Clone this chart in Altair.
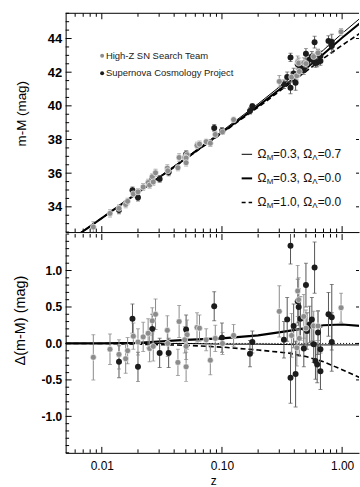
import altair as alt
import pandas as pd

# ---------------- data ----------------
Z = [0.0085, 0.0117, 0.0139, 0.0139, 0.0158, 0.0164, 0.0180, 0.0183, 0.0200, 0.0200,
     0.0221, 0.0243, 0.0250, 0.0263, 0.0263, 0.0280, 0.0268, 0.0303, 0.0351, 0.0354,
     0.0360, 0.0430, 0.0440, 0.0503, 0.0513, 0.0490, 0.0503, 0.0503, 0.0620, 0.0650,
     0.0739, 0.0800, 0.0862, 0.0880, 0.1000, 0.1010, 0.1250, 0.1710, 0.1790, 0.300,
     0.328, 0.349, 0.372, 0.372, 0.380, 0.395, 0.410, 0.427, 0.435, 0.427,
     0.435, 0.420, 0.440, 0.450, 0.480, 0.500, 0.500, 0.480, 0.510, 0.537,
     0.560, 0.580, 0.580, 0.590, 0.600, 0.630, 0.630, 0.620, 0.660, 0.660,
     0.770, 0.820, 0.820, 0.980]
DELTA = [-0.19, -0.08, -0.15, -0.25, -0.21, -0.10, 0.34, 0.10, -0.32, 0.02,
         0.09, 0.14, -0.07, 0.20, 0.31, 0.40, -0.04, -0.13, 0.18, 0.00,
         -0.13, -0.26, 0.30, 0.19, 0.12, 0.05, -0.04, -0.32, 0.22, 0.21,
         0.05, -0.23, 0.51, 0.07, 0.08, 0.00, 0.11, -0.14, 0.02, 0.44,
         0.05, 0.33, -0.47, 1.34, 0.11, 0.24, -0.42, 0.72, 0.60, 0.58,
         0.50, -0.06, 0.07, 0.34, 0.37, 0.21, 0.80, -0.07, 0.17, 0.26,
         0.33, 0.24, -0.01, 1.04, -0.24, 0.24, 0.15, -0.29, -0.08, -0.38,
         0.40, 0.36, 0.02, 0.49]
MU = [32.80, 33.61, 33.91, 33.81, 34.14, 34.33, 34.98, 34.77, 34.55, 34.89,
      35.18, 35.44, 35.29, 35.68, 35.79, 36.02, 35.48, 35.66, 36.30, 36.14,
      36.05, 36.32, 36.93, 37.13, 37.10, 36.93, 36.90, 36.62, 37.64, 37.73,
      37.87, 37.78, 38.69, 38.30, 38.51, 38.45, 39.18, 39.70, 39.98, 41.45,
      41.28, 41.71, 41.07, 42.88, 41.71, 41.93, 41.37, 42.61, 42.54, 42.47,
      42.44, 41.79, 42.04, 42.37, 42.56, 42.51, 43.10, 42.12, 42.52, 42.75,
      42.93, 42.93, 42.68, 43.78, 42.54, 43.15, 43.06, 42.58, 42.96, 42.66,
      43.86, 43.80, 43.55, 44.40]
ERR = [0.31, 0.21, 0.20, 0.22, 0.20, 0.18, 0.20, 0.18, 0.20, 0.18,
       0.20, 0.20, 0.18, 0.20, 0.18, 0.21, 0.20, 0.20, 0.20, 0.18,
       0.20, 0.18, 0.22, 0.20, 0.20, 0.18, 0.18, 0.20, 0.20, 0.18,
       0.15, 0.20, 0.20, 0.18, 0.20, 0.15, 0.15, 0.18, 0.15, 0.35,
       0.25, 0.30, 0.35, 0.25, 0.30, 0.30, 0.45, 0.35, 0.30, 0.30,
       0.25, 0.25, 0.25, 0.30, 0.30, 0.25, 0.30, 0.25, 0.25, 0.25,
       0.30, 0.20, 0.25, 0.35, 0.25, 0.20, 0.30, 0.25, 0.30, 0.25,
       0.30, 0.45, 0.40, 0.20]
TEAM = ["H", "H", "H", "S", "H", "H", "S", "H", "S", "H",
        "H", "H", "H", "S", "H", "H", "H", "S", "H", "H",
        "S", "H", "H", "S", "H", "H", "H", "H", "H", "H",
        "H", "H", "S", "H", "S", "H", "H", "S", "S", "H",
        "S", "S", "S", "S", "H", "S", "S", "H", "H", "S",
        "S", "H", "H", "S", "H", "H", "S", "S", "S", "S",
        "S", "H", "S", "S", "S", "H", "S", "S", "S", "S",
        "S", "S", "S", "H"]

Z_GRID = [0.005, 0.01, 0.02, 0.05, 0.1, 0.2, 0.35, 0.5, 0.7, 1.0, 1.42]
MU_LAMBDA = [31.82, 33.33, 34.86, 36.92, 38.50, 40.12, 41.50, 42.42, 43.32, 44.30, 45.22]
MU_OPEN = [31.82, 33.33, 34.85, 36.87, 38.42, 40.00, 41.33, 42.22, 43.08, 44.05, 44.93]
MU_EDS = [31.82, 33.33, 34.84, 36.85, 38.38, 39.92, 41.22, 42.05, 42.82, 43.60, 44.33]
D_LAMBDA = [0.0, 0.0, 0.01, 0.05, 0.07, 0.11, 0.17, 0.21, 0.25, 0.26, 0.24]
D_OPEN = [0.0, 0.0, 0.0, 0.0, -0.01, -0.01, -0.015, -0.02, -0.02, -0.02, -0.02]
D_EDS = [0.0, 0.0, -0.01, -0.025, -0.05, -0.09, -0.13, -0.18, -0.25, -0.36, -0.47]

X_LABELS = [0.01, 0.1, 1.0]
X_MINOR = [0.006, 0.007, 0.008, 0.009, 0.02, 0.03, 0.04, 0.05, 0.06, 0.07, 0.08, 0.09,
           0.2, 0.3, 0.4, 0.5, 0.6, 0.7, 0.8, 0.9]
Y1_LABELS = [34, 36, 38, 40, 42, 44]
Y2_LABELS = [-1.0, -0.5, 0.0, 0.5, 1.0]
TEAMS = ["High-Z SN Search Team", "Supernova Cosmology Project"]
MODELS = [("0.3", "0.7"), ("0.3", "0.0"), ("1.0", "0.0")]
TITLES = ["m-M (mag)", "\u0394(m-M) (mag)", "z"]

# ---------------- styling ----------------
W, H = 295, 220
FONT = "Liberation Sans"
GRAY = "#8c8c8c"
BLACK = "#1c1c1c"
EGRAY = "#8a8a8a"
EBLACK = "#555555"

xs = alt.Scale(type="log", domain=[0.005, 1.382])
ys1 = alt.Scale(domain=[32.5, 45.5], nice=False, zero=False)
ys2 = alt.Scale(domain=[-1.5, 1.5], nice=False, zero=False)

sn = pd.DataFrame({"z": Z, "d": DELTA, "mu": MU, "err": ERR, "team": TEAM})
sn["mu_lo"] = sn["mu"] - sn["err"]
sn["mu_hi"] = sn["mu"] + sn["err"]
sn["d_lo"] = sn["d"] - sn["err"]
sn["d_hi"] = sn["d"] + sn["err"]
sn["ecol"] = [EGRAY if t == "H" else EBLACK for t in TEAM]
sn_h = sn[sn.team == "H"]
sn_s = sn[sn.team == "S"]

curves = pd.DataFrame({"z": Z_GRID, "muL": MU_LAMBDA, "muO": MU_OPEN, "muE": MU_EDS,
                       "dL": D_LAMBDA, "dO": D_OPEN, "dE": D_EDS})

y1_minor = [v / 2 for v in range(65, 92) if (v / 2) not in Y1_LABELS]
y2_minor = [round(v / 10, 1) for v in range(-15, 16) if round(v / 10, 1) not in Y2_LABELS]
one = pd.DataFrame({"a": [0]})


def text(txt, x, y, size, angle=0, align="center", baseline="middle", color="black", weight="normal"):
    return alt.Chart(one).mark_text(align=align, baseline=baseline, font=FONT, fontSize=size,
                                    angle=angle, color=color, fontWeight=weight).encode(
        x=alt.value(x), y=alt.value(y), text=alt.value(txt))


def panel(ys, xaxis, yaxis, ymajor, yminor, ycurves, yf, lo, hi, bottom):
    def X(field):
        return alt.X(field, type="quantitative", scale=xs, axis=xaxis)

    def Y(field):
        return alt.Y(field, type="quantitative", scale=ys, axis=yaxis)

    layers = []
    if bottom:
        layers.append(alt.Chart(one).mark_rule(color="black", strokeWidth=1, strokeDash=[1, 2]).encode(
            y=Y("a"), x=alt.value(0), x2=alt.value(W)))
    for f, st in ycurves:
        layers.append(alt.Chart(curves).mark_line(color="black", clip=True, **st).encode(
            x=X("z"), y=Y(f)))
    for df in (sn_s, sn_h):
        layers.append(alt.Chart(df).mark_rule(strokeWidth=1, clip=True).encode(
            x=X("z"), y=Y(lo), y2=alt.Y2(hi), color=alt.Color("ecol:N", scale=None)))
        for f in (lo, hi):
            layers.append(alt.Chart(df).mark_tick(orient="horizontal", size=4, thickness=1,
                                                  clip=True).encode(
                x=X("z"), y=Y(f), color=alt.Color("ecol:N", scale=None)))
    layers.append(alt.Chart(sn_s).mark_circle(size=36, opacity=1, color=BLACK, clip=True).encode(
        x=X("z"), y=Y(yf)))
    layers.append(alt.Chart(sn_h).mark_point(filled=True, shape="circle", size=36, opacity=1,
                                             fill=GRAY, stroke="white", strokeWidth=0.6,
                                             clip=True).encode(x=X("z"), y=Y(yf)))
    xm = pd.DataFrame({"v": X_LABELS})
    xn = pd.DataFrame({"v": X_MINOR})
    ym = pd.DataFrame({"v": ymajor})
    yn = pd.DataFrame({"v": yminor})
    for df, L in ((xm, 6), (xn, 3.5)):
        layers.append(alt.Chart(df).mark_rule(color="black", strokeWidth=1).encode(
            x=X("v"), y=alt.value(H), y2=alt.value(H - L)))
        layers.append(alt.Chart(df).mark_rule(color="black", strokeWidth=1).encode(
            x=X("v"), y=alt.value(0), y2=alt.value(L)))
    for df, L in ((ym, 6), (yn, 3.5)):
        layers.append(alt.Chart(df).mark_rule(color="black", strokeWidth=1).encode(
            y=Y("v"), x=alt.value(0), x2=alt.value(L)))
    layers.append(alt.Chart(ym).mark_rule(color="black", strokeWidth=1).encode(
        y=Y("v"), x=alt.value(W - 3), x2=alt.value(W)))
    return layers


# ---------------- top panel ----------------
top_yaxis = alt.Axis(values=Y1_LABELS, format="d", ticks=False, labelPadding=4,
                     labelFontSize=13, labelFontWeight="bold", title=None, grid=False)
top_xaxis = alt.Axis(labels=False, ticks=False, title=None, grid=False)

top_layers = panel(ys1, top_xaxis, top_yaxis, Y1_LABELS, y1_minor,
                   [("muL", dict(strokeWidth=1)), ("muO", dict(strokeWidth=2)),
                    ("muE", dict(strokeWidth=1.6, strokeDash=[5, 3]))],
                   "mu", "mu_lo", "mu_hi", False)
top_layers.append(alt.Chart(one).mark_rule(color="black", strokeWidth=1).encode(
    x=alt.value(0), x2=alt.value(W), y=alt.value(0)))
top_layers.append(text(TITLES[0], -44, 101, 13.5, angle=270))

for i, (name, col) in enumerate(zip(TEAMS, [GRAY, BLACK])):
    yy = 42.8 + 17.4 * i
    top_layers.append(alt.Chart(one).mark_circle(size=16, color=col, opacity=1).encode(
        x=alt.value(36.7), y=alt.value(yy)))
    top_layers.append(text(name, 40.5, yy, 9.5, align="left", color="#222"))

styles = [dict(strokeWidth=1), dict(strokeWidth=2), dict(strokeWidth=1.6, strokeDash=[4, 3])]
for i, ((om, ol), st) in enumerate(zip(MODELS, styles)):
    yy = 141.8 + 24.2 * i
    top_layers.append(alt.Chart(one).mark_rule(color="black", **st).encode(
        x=alt.value(177), x2=alt.value(187.5), y=alt.value(yy)))
    x0 = 193
    segs = [("\u03a9", 0, 12, 0), ("M", 9.3, 8, 3.5), ("=" + om + ", \u03a9", 15.6, 12, 0),
            ("\u039b", 55.0, 8, 3.5), ("=" + ol, 60.4, 12, 0)]
    for txt, dx, fs, dy in segs:
        top_layers.append(text(txt, x0 + dx, yy + dy, fs, align="left", color="#111"))

top = alt.layer(*top_layers).properties(width=W, height=H)

# ---------------- bottom panel ----------------
bot_yaxis = alt.Axis(values=Y2_LABELS, ticks=False, labelPadding=4, labelFontSize=12,
                     labelFontWeight="bold",
                     labelExpr="datum.value < 0 ? '-' + format(-datum.value, '.1f') : format(datum.value, '.1f')",
                     title=None, grid=False)
bot_xaxis = alt.Axis(values=X_LABELS, format=".2f", ticks=False, labelPadding=8,
                     labelFontSize=12, title=None, grid=False)

bot_layers = panel(ys2, bot_xaxis, bot_yaxis, Y2_LABELS, y2_minor,
                   [("dO", dict(strokeWidth=1)),
                    ("dE", dict(strokeWidth=1.6, strokeDash=[5, 3])),
                    ("dL", dict(strokeWidth=2.2))],
                   "d", "d_lo", "d_hi", True)
bot_layers.append(text(TITLES[1], -45, 87, 14.5, angle=270))
bot_layers.append(text(TITLES[2], W / 2 + 1.5, H + 32.5, 12, baseline="alphabetic"))

bottom = alt.layer(*bot_layers).properties(width=W, height=H)

chart = alt.vconcat(top, bottom, spacing=0).properties(
    padding={"left": 12, "top": 11, "right": 0, "bottom": 0}
).configure_view(stroke="transparent").configure_axis(
    domainColor="black", domainWidth=1, labelColor="black", titleColor="black",
    labelFont=FONT, titleFont=FONT
)

chart.save("out.html", embed_options={"renderer": "svg", "actions": False})
